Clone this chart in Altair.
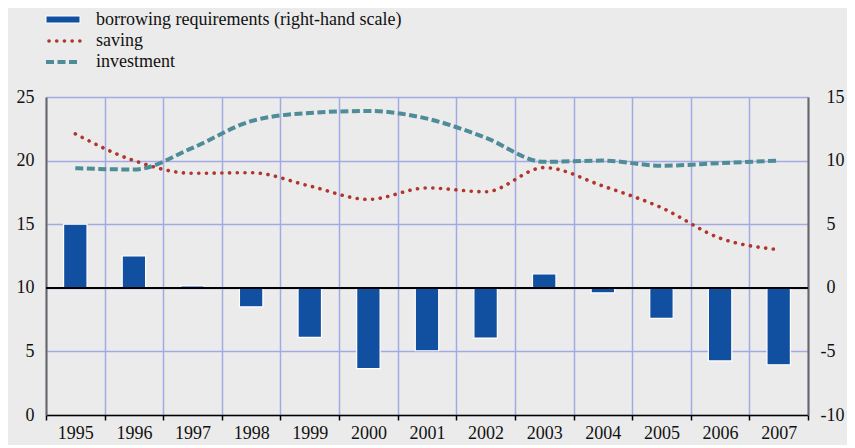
import altair as alt
import pandas as pd

years = [str(y) for y in range(1995, 2008)]
borrowing = [5.0, 2.5, 0.15, -1.5, -3.9, -6.35, -4.95, -3.95, 1.1, -0.4, -2.4, -5.75, -6.05]
saving = [22.1, 20.0, 19.0, 19.05, 18.0, 16.95, 17.85, 17.55, 19.45, 18.0, 16.3, 13.9, 13.0]
investment = [19.4, 19.3, 21.0, 23.1, 23.75, 23.9, 23.3, 21.8, 19.9, 20.0, 19.6, 19.8, 20.0]

legend_labels = ["borrowing requirements (right-hand scale)", "saving", "investment"]
left_ticks = [0, 5, 10, 15, 20, 25]
right_ticks = [-10, -5, 0, 5, 10, 15]

df = pd.DataFrame({"year": years, "borrowing": borrowing, "saving": saving, "investment": investment})

FONT = "Liberation Serif, Times New Roman, Times, serif"
FS = 18
GRID = "#a3aae3"
BAR = "#1150a0"
RED = "#b0362c"
TEAL = "#4e8c98"

xscale = alt.Scale(paddingInner=0, paddingOuter=0)
xaxis = alt.Axis(title=None, tickBand="extent", grid=True, gridColor=GRID, gridWidth=1.5,
                 domainColor="#000000", domainWidth=1.5, tickColor="#000000", tickWidth=1.5,
                 tickSize=5, labelFont=FONT, labelFontSize=FS, labelColor="#111111",
                 labelPadding=4, labelAngle=0)

base = alt.Chart(df)

yleft = alt.Scale(domain=[0, 25], nice=False, zero=False)
yright = alt.Scale(domain=[-10, 15], nice=False, zero=False)

left_axis = alt.Axis(title=None, orient="left", values=left_ticks, grid=True, gridColor=GRID,
                     gridWidth=1.5, domainColor="#666666", domainWidth=2, ticks=False,
                     labelFont=FONT, labelFontSize=FS, labelColor="#111111", labelPadding=12)
right_axis = alt.Axis(title=None, orient="right", values=right_ticks, grid=False,
                      domainColor="#666666", domainWidth=2, ticks=False,
                      labelExpr="toString(datum.value)",
                      labelFont=FONT, labelFontSize=FS, labelColor="#111111",
                      labelPadding={"condition": {"test": "datum.value < 0", "value": 12}, "value": 18})

bars = base.mark_bar(color=BAR, stroke="white", strokeWidth=1.2,
                     width=alt.RelativeBandSize(0.4)).encode(
    x=alt.X("year:O", scale=xscale, axis=xaxis),
    y=alt.Y("borrowing:Q", scale=yright, axis=right_axis),
)

zero = base.mark_rule(color="#000000", strokeWidth=1.5).encode(
    y=alt.datum(10), x=alt.value(0), x2=alt.value(762)
)

saving_line = base.mark_line(color=RED, strokeWidth=3.6, strokeDash=[0.1, 7.6], strokeCap="round",
                             interpolate="monotone").encode(
    x=alt.X("year:O", scale=xscale, axis=xaxis),
    y=alt.Y("saving:Q", scale=yleft, axis=left_axis),
)
invest_line = base.mark_line(color=TEAL, strokeWidth=4, strokeDash=[8, 3.5],
                             interpolate="monotone").encode(
    x=alt.X("year:O", scale=xscale, axis=xaxis),
    y=alt.Y("investment:Q", scale=yleft, axis=left_axis),
)

one = pd.DataFrame({"k": [0]})
legend_rows = [-77, -56, -35]
leg_texts = [
    alt.Chart(one).mark_text(align="left", baseline="middle", font=FONT, fontSize=FS,
                             color="#111111", text=lab).encode(x=alt.value(50), y=alt.value(yy))
    for lab, yy in zip(legend_labels, legend_rows)
]
leg_bar = alt.Chart(one).mark_rect(color=BAR, stroke="white", strokeWidth=1).encode(
    x=alt.value(0), x2=alt.value(34), y=alt.value(-81), y2=alt.value(-74)
)
leg_dot = alt.Chart(one).mark_rule(color=RED, strokeWidth=3.6, strokeDash=[0.1, 7.6],
                                   strokeCap="round").encode(
    x=alt.value(3), x2=alt.value(34), y=alt.value(-56)
)
leg_dash = alt.Chart(one).mark_rule(color=TEAL, strokeWidth=4, strokeDash=[8, 3.5]).encode(
    x=alt.value(0), x2=alt.value(34), y=alt.value(-35)
)

left_layer = alt.layer(zero, saving_line, invest_line)
legend_layer = alt.layer(*leg_texts, leg_bar, leg_dot, leg_dash)

chart = alt.layer(bars, left_layer, legend_layer).resolve_scale(y="independent").properties(
    width=762, height=318,
    autosize=alt.AutoSizeParams(type="none"),
    padding={"left": 38, "top": 89, "right": 39, "bottom": 30},
    background="#ebebeb",
).configure_view(stroke=None, fill="#ebebeb")

chart.save("out.html", embed_options={"renderer": "svg", "actions": False})
